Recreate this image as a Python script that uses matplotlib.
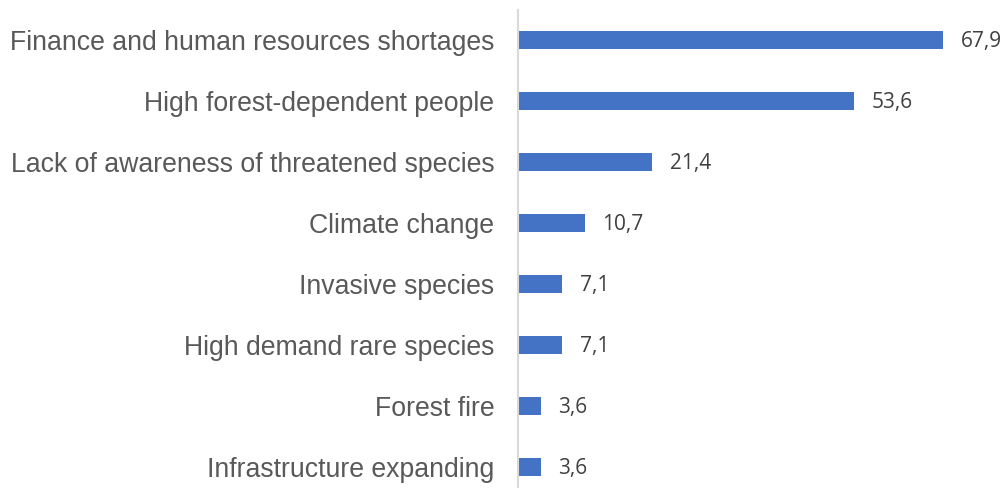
import matplotlib
matplotlib.use("Agg")
import matplotlib.pyplot as plt

# categories listed top to bottom
categories = [
    "Finance and human resources shortages",
    "High forest-dependent people",
    "Lack of awareness of threatened species",
    "Climate change",
    "Invasive species",
    "High demand rare species",
    "Forest fire",
    "Infrastructure expanding",
]
values = [67.9, 53.6, 21.4, 10.7, 7.1, 7.1, 3.6, 3.6]

fig = plt.figure(figsize=(10.06, 4.88), dpi=100)
ax = fig.add_axes([518 / 1006, -9.5 / 488, 476 / 1006, 488 / 488])

ypos = list(range(len(categories)))
ax.barh(ypos, values, height=0.31, color="#4472C4")
ax.set_ylim(len(categories) - 0.5, -0.5)
ax.set_xlim(0, 76)

for y, v in zip(ypos, values):
    ax.text(v + 2.8, y + 0.03, f"{v:.1f}".replace(".", ","), va="center", ha="left",
            fontsize=15, color="#404040", family="Open Sans")

ax.set_yticks(ypos)
ax.set_yticklabels(categories, fontsize=19.2, color="#595959", family="Liberation Sans")
ax.tick_params(axis="y", length=0, pad=17)
ax.set_xticks([])
for side in ["top", "right", "bottom"]:
    ax.spines[side].set_visible(False)
ax.spines["left"].set_color("#D9D9D9")
ax.spines["left"].set_linewidth(1.5)

fig.savefig("out.png", dpi=100)
